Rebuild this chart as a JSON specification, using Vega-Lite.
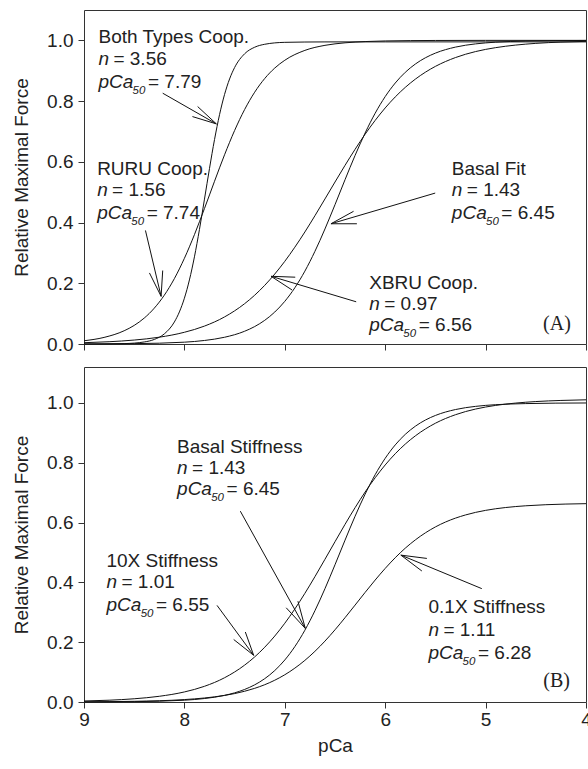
{
  "$schema": "https://vega.github.io/schema/vega-lite/v6.json",
  "background": "white",
  "padding": {"left": 12, "top": 9, "right": 2, "bottom": 5},
  "config": {
    "view": {"stroke": "#333", "strokeWidth": 1},
    "font": "Liberation Sans",
    "concat": {"spacing": 11},
    "axis": {"grid": false, "domain": false, "tickColor": "#333", "tickSize": 6, "labelFont": "Liberation Sans", "labelFontSize": 19, "labelColor": "#222", "titleFont": "Liberation Sans", "titleFontSize": 19, "titleFontWeight": "normal", "titleColor": "#222", "labelFlush": false, "labelOverlap": false, "labelBound": false}
  },
  "datasets": {
    "curves": [
      {"panel":"A","curve":"both","pCa":9.0,"force":0.0000},{"panel":"A","curve":"both","pCa":8.8,"force":0.0002},{"panel":"A","curve":"both","pCa":8.6,"force":0.0013},{"panel":"A","curve":"both","pCa":8.4,"force":0.0067},{"panel":"A","curve":"both","pCa":8.3,"force":0.0150},{"panel":"A","curve":"both","pCa":8.2,"force":0.0333},{"panel":"A","curve":"both","pCa":8.1,"force":0.0725},{"panel":"A","curve":"both","pCa":8.05,"force":0.1056},{"panel":"A","curve":"both","pCa":8.0,"force":0.1508},{"panel":"A","curve":"both","pCa":7.95,"force":0.2110},{"panel":"A","curve":"both","pCa":7.9,"force":0.2871},{"panel":"A","curve":"both","pCa":7.85,"force":0.3774},{"panel":"A","curve":"both","pCa":7.8,"force":0.4771},{"panel":"A","curve":"both","pCa":7.75,"force":0.5783},{"panel":"A","curve":"both","pCa":7.7,"force":0.6732},{"panel":"A","curve":"both","pCa":7.65,"force":0.7553},{"panel":"A","curve":"both","pCa":7.6,"force":0.8219},{"panel":"A","curve":"both","pCa":7.55,"force":0.8729},{"panel":"A","curve":"both","pCa":7.5,"force":0.9105},{"panel":"A","curve":"both","pCa":7.4,"force":0.9559},{"panel":"A","curve":"both","pCa":7.3,"force":0.9774},{"panel":"A","curve":"both","pCa":7.2,"force":0.9871},{"panel":"A","curve":"both","pCa":7.0,"force":0.9935},{"panel":"A","curve":"both","pCa":6.6,"force":0.9949},{"panel":"A","curve":"both","pCa":6.0,"force":0.995},{"panel":"A","curve":"both","pCa":5.0,"force":0.995},{"panel":"A","curve":"both","pCa":4.0,"force":0.995},
      {"panel":"A","curve":"ruru","pCa":9.0,"force":0.0107},{"panel":"A","curve":"ruru","pCa":8.8,"force":0.0217},{"panel":"A","curve":"ruru","pCa":8.6,"force":0.0436},{"panel":"A","curve":"ruru","pCa":8.5,"force":0.0612},{"panel":"A","curve":"ruru","pCa":8.4,"force":0.0854},{"panel":"A","curve":"ruru","pCa":8.3,"force":0.1180},{"panel":"A","curve":"ruru","pCa":8.2,"force":0.1608},{"panel":"A","curve":"ruru","pCa":8.1,"force":0.2153},{"panel":"A","curve":"ruru","pCa":8.0,"force":0.2822},{"panel":"A","curve":"ruru","pCa":7.9,"force":0.3602},{"panel":"A","curve":"ruru","pCa":7.8,"force":0.4463},{"panel":"A","curve":"ruru","pCa":7.7,"force":0.5359},{"panel":"A","curve":"ruru","pCa":7.6,"force":0.6232},{"panel":"A","curve":"ruru","pCa":7.5,"force":0.7031},{"panel":"A","curve":"ruru","pCa":7.4,"force":0.7723},{"panel":"A","curve":"ruru","pCa":7.3,"force":0.8293},{"panel":"A","curve":"ruru","pCa":7.2,"force":0.8744},{"panel":"A","curve":"ruru","pCa":7.1,"force":0.9088},{"panel":"A","curve":"ruru","pCa":7.0,"force":0.9345},{"panel":"A","curve":"ruru","pCa":6.8,"force":0.9670},{"panel":"A","curve":"ruru","pCa":6.6,"force":0.9836},{"panel":"A","curve":"ruru","pCa":6.4,"force":0.9919},{"panel":"A","curve":"ruru","pCa":6.2,"force":0.9961},{"panel":"A","curve":"ruru","pCa":6.0,"force":0.9981},{"panel":"A","curve":"ruru","pCa":5.5,"force":0.9997},{"panel":"A","curve":"ruru","pCa":5.0,"force":1.0},{"panel":"A","curve":"ruru","pCa":4.0,"force":1.0},
      {"panel":"A","curve":"basal","pCa":9.0,"force":0.0002},{"panel":"A","curve":"basal","pCa":8.5,"force":0.0012},{"panel":"A","curve":"basal","pCa":8.0,"force":0.0060},{"panel":"A","curve":"basal","pCa":7.8,"force":0.0116},{"panel":"A","curve":"basal","pCa":7.6,"force":0.0222},{"panel":"A","curve":"basal","pCa":7.4,"force":0.0420},{"panel":"A","curve":"basal","pCa":7.3,"force":0.0574},{"panel":"A","curve":"basal","pCa":7.2,"force":0.0780},{"panel":"A","curve":"basal","pCa":7.1,"force":0.1052},{"panel":"A","curve":"basal","pCa":7.0,"force":0.1405},{"panel":"A","curve":"basal","pCa":6.9,"force":0.1852},{"panel":"A","curve":"basal","pCa":6.8,"force":0.2400},{"panel":"A","curve":"basal","pCa":6.7,"force":0.3051},{"panel":"A","curve":"basal","pCa":6.6,"force":0.3789},{"panel":"A","curve":"basal","pCa":6.5,"force":0.4589},{"panel":"A","curve":"basal","pCa":6.4,"force":0.5411},{"panel":"A","curve":"basal","pCa":6.3,"force":0.6211},{"panel":"A","curve":"basal","pCa":6.2,"force":0.6949},{"panel":"A","curve":"basal","pCa":6.1,"force":0.7600},{"panel":"A","curve":"basal","pCa":6.0,"force":0.8148},{"panel":"A","curve":"basal","pCa":5.9,"force":0.8595},{"panel":"A","curve":"basal","pCa":5.8,"force":0.8948},{"panel":"A","curve":"basal","pCa":5.7,"force":0.9220},{"panel":"A","curve":"basal","pCa":5.6,"force":0.9426},{"panel":"A","curve":"basal","pCa":5.5,"force":0.9580},{"panel":"A","curve":"basal","pCa":5.3,"force":0.9778},{"panel":"A","curve":"basal","pCa":5.1,"force":0.9884},{"panel":"A","curve":"basal","pCa":4.9,"force":0.9940},{"panel":"A","curve":"basal","pCa":4.6,"force":0.9977},{"panel":"A","curve":"basal","pCa":4.3,"force":0.9992},{"panel":"A","curve":"basal","pCa":4.0,"force":0.9997},
      {"panel":"A","curve":"xbru","pCa":9.0,"force":0.0043},{"panel":"A","curve":"xbru","pCa":8.75,"force":0.0075},{"panel":"A","curve":"xbru","pCa":8.5,"force":0.0130},{"panel":"A","curve":"xbru","pCa":8.25,"force":0.0224},{"panel":"A","curve":"xbru","pCa":8.0,"force":0.0386},{"panel":"A","curve":"xbru","pCa":7.8,"force":0.0590},{"panel":"A","curve":"xbru","pCa":7.6,"force":0.0892},{"panel":"A","curve":"xbru","pCa":7.4,"force":0.1328},{"panel":"A","curve":"xbru","pCa":7.3,"force":0.1607},{"panel":"A","curve":"xbru","pCa":7.2,"force":0.1932},{"panel":"A","curve":"xbru","pCa":7.1,"force":0.2304},{"panel":"A","curve":"xbru","pCa":7.0,"force":0.2723},{"panel":"A","curve":"xbru","pCa":6.9,"force":0.3188},{"panel":"A","curve":"xbru","pCa":6.8,"force":0.3690},{"panel":"A","curve":"xbru","pCa":6.7,"force":0.4224},{"panel":"A","curve":"xbru","pCa":6.6,"force":0.4777},{"panel":"A","curve":"xbru","pCa":6.5,"force":0.5335},{"panel":"A","curve":"xbru","pCa":6.4,"force":0.5884},{"panel":"A","curve":"xbru","pCa":6.3,"force":0.6412},{"panel":"A","curve":"xbru","pCa":6.2,"force":0.6909},{"panel":"A","curve":"xbru","pCa":6.1,"force":0.7364},{"panel":"A","curve":"xbru","pCa":6.0,"force":0.7774},{"panel":"A","curve":"xbru","pCa":5.9,"force":0.8137},{"panel":"A","curve":"xbru","pCa":5.8,"force":0.8452},{"panel":"A","curve":"xbru","pCa":5.7,"force":0.8722},{"panel":"A","curve":"xbru","pCa":5.6,"force":0.8951},{"panel":"A","curve":"xbru","pCa":5.5,"force":0.9143},{"panel":"A","curve":"xbru","pCa":5.3,"force":0.9434},{"panel":"A","curve":"xbru","pCa":5.1,"force":0.9631},{"panel":"A","curve":"xbru","pCa":4.9,"force":0.9760},{"panel":"A","curve":"xbru","pCa":4.7,"force":0.9845},{"panel":"A","curve":"xbru","pCa":4.5,"force":0.9901},{"panel":"A","curve":"xbru","pCa":4.25,"force":0.9943},{"panel":"A","curve":"xbru","pCa":4.0,"force":0.9967},
      {"panel":"B","curve":"bstiff","pCa":9.0,"force":0.0002},{"panel":"B","curve":"bstiff","pCa":8.5,"force":0.0012},{"panel":"B","curve":"bstiff","pCa":8.0,"force":0.0060},{"panel":"B","curve":"bstiff","pCa":7.8,"force":0.0116},{"panel":"B","curve":"bstiff","pCa":7.6,"force":0.0222},{"panel":"B","curve":"bstiff","pCa":7.4,"force":0.0420},{"panel":"B","curve":"bstiff","pCa":7.3,"force":0.0574},{"panel":"B","curve":"bstiff","pCa":7.2,"force":0.0780},{"panel":"B","curve":"bstiff","pCa":7.1,"force":0.1052},{"panel":"B","curve":"bstiff","pCa":7.0,"force":0.1405},{"panel":"B","curve":"bstiff","pCa":6.9,"force":0.1852},{"panel":"B","curve":"bstiff","pCa":6.8,"force":0.2400},{"panel":"B","curve":"bstiff","pCa":6.7,"force":0.3051},{"panel":"B","curve":"bstiff","pCa":6.6,"force":0.3789},{"panel":"B","curve":"bstiff","pCa":6.5,"force":0.4589},{"panel":"B","curve":"bstiff","pCa":6.4,"force":0.5411},{"panel":"B","curve":"bstiff","pCa":6.3,"force":0.6211},{"panel":"B","curve":"bstiff","pCa":6.2,"force":0.6949},{"panel":"B","curve":"bstiff","pCa":6.1,"force":0.7600},{"panel":"B","curve":"bstiff","pCa":6.0,"force":0.8148},{"panel":"B","curve":"bstiff","pCa":5.9,"force":0.8595},{"panel":"B","curve":"bstiff","pCa":5.8,"force":0.8948},{"panel":"B","curve":"bstiff","pCa":5.7,"force":0.9220},{"panel":"B","curve":"bstiff","pCa":5.6,"force":0.9426},{"panel":"B","curve":"bstiff","pCa":5.5,"force":0.9580},{"panel":"B","curve":"bstiff","pCa":5.3,"force":0.9778},{"panel":"B","curve":"bstiff","pCa":5.1,"force":0.9884},{"panel":"B","curve":"bstiff","pCa":4.9,"force":0.9940},{"panel":"B","curve":"bstiff","pCa":4.6,"force":0.9977},{"panel":"B","curve":"bstiff","pCa":4.3,"force":0.9992},{"panel":"B","curve":"bstiff","pCa":4.0,"force":0.9997},
      {"panel":"B","curve":"x10","pCa":9.0,"force":0.0034},{"panel":"B","curve":"x10","pCa":8.75,"force":0.0060},{"panel":"B","curve":"x10","pCa":8.5,"force":0.0108},{"panel":"B","curve":"x10","pCa":8.25,"force":0.0191},{"panel":"B","curve":"x10","pCa":8.0,"force":0.0336},{"panel":"B","curve":"x10","pCa":7.8,"force":0.0525},{"panel":"B","curve":"x10","pCa":7.6,"force":0.0811},{"panel":"B","curve":"x10","pCa":7.4,"force":0.1233},{"panel":"B","curve":"x10","pCa":7.3,"force":0.1507},{"panel":"B","curve":"x10","pCa":7.2,"force":0.1831},{"panel":"B","curve":"x10","pCa":7.1,"force":0.2205},{"panel":"B","curve":"x10","pCa":7.0,"force":0.2633},{"panel":"B","curve":"x10","pCa":6.9,"force":0.3110},{"panel":"B","curve":"x10","pCa":6.8,"force":0.3633},{"panel":"B","curve":"x10","pCa":6.7,"force":0.4190},{"panel":"B","curve":"x10","pCa":6.6,"force":0.4771},{"panel":"B","curve":"x10","pCa":6.5,"force":0.5359},{"panel":"B","curve":"x10","pCa":6.4,"force":0.5940},{"panel":"B","curve":"x10","pCa":6.3,"force":0.6497},{"panel":"B","curve":"x10","pCa":6.2,"force":0.7020},{"panel":"B","curve":"x10","pCa":6.1,"force":0.7497},{"panel":"B","curve":"x10","pCa":6.0,"force":0.7925},{"panel":"B","curve":"x10","pCa":5.9,"force":0.8300},{"panel":"B","curve":"x10","pCa":5.8,"force":0.8623},{"panel":"B","curve":"x10","pCa":5.7,"force":0.8897},{"panel":"B","curve":"x10","pCa":5.6,"force":0.9128},{"panel":"B","curve":"x10","pCa":5.5,"force":0.9320},{"panel":"B","curve":"x10","pCa":5.3,"force":0.9605},{"panel":"B","curve":"x10","pCa":5.1,"force":0.9794},{"panel":"B","curve":"x10","pCa":4.9,"force":0.9916},{"panel":"B","curve":"x10","pCa":4.7,"force":0.9994},{"panel":"B","curve":"x10","pCa":4.5,"force":1.0045},{"panel":"B","curve":"x10","pCa":4.25,"force":1.0082},{"panel":"B","curve":"x10","pCa":4.0,"force":1.0103},
      {"panel":"B","curve":"x01","pCa":9.0,"force":0.0006},{"panel":"B","curve":"x01","pCa":8.5,"force":0.0023},{"panel":"B","curve":"x01","pCa":8.0,"force":0.0081},{"panel":"B","curve":"x01","pCa":7.8,"force":0.0134},{"panel":"B","curve":"x01","pCa":7.6,"force":0.0220},{"panel":"B","curve":"x01","pCa":7.4,"force":0.0359},{"panel":"B","curve":"x01","pCa":7.3,"force":0.0457},{"panel":"B","curve":"x01","pCa":7.2,"force":0.0578},{"panel":"B","curve":"x01","pCa":7.1,"force":0.0728},{"panel":"B","curve":"x01","pCa":7.0,"force":0.0911},{"panel":"B","curve":"x01","pCa":6.9,"force":0.1132},{"panel":"B","curve":"x01","pCa":6.8,"force":0.1392},{"panel":"B","curve":"x01","pCa":6.7,"force":0.1694},{"panel":"B","curve":"x01","pCa":6.6,"force":0.2036},{"panel":"B","curve":"x01","pCa":6.5,"force":0.2414},{"panel":"B","curve":"x01","pCa":6.4,"force":0.2819},{"panel":"B","curve":"x01","pCa":6.3,"force":0.3240},{"panel":"B","curve":"x01","pCa":6.2,"force":0.3664},{"panel":"B","curve":"x01","pCa":6.1,"force":0.4077},{"panel":"B","curve":"x01","pCa":6.0,"force":0.4466},{"panel":"B","curve":"x01","pCa":5.9,"force":0.4824},{"panel":"B","curve":"x01","pCa":5.8,"force":0.5143},{"panel":"B","curve":"x01","pCa":5.7,"force":0.5419},{"panel":"B","curve":"x01","pCa":5.6,"force":0.5655},{"panel":"B","curve":"x01","pCa":5.5,"force":0.5853},{"panel":"B","curve":"x01","pCa":5.4,"force":0.6016},{"panel":"B","curve":"x01","pCa":5.2,"force":0.6254},{"panel":"B","curve":"x01","pCa":5.0,"force":0.6407},{"panel":"B","curve":"x01","pCa":4.8,"force":0.6502},{"panel":"B","curve":"x01","pCa":4.6,"force":0.6560},{"panel":"B","curve":"x01","pCa":4.4,"force":0.6596},{"panel":"B","curve":"x01","pCa":4.2,"force":0.6618},{"panel":"B","curve":"x01","pCa":4.0,"force":0.6631}
    ],
    "arrows": [
      {"panel":"A","pCa":8.216,"force":0.826,"pCa2":7.682,"force2":0.725},
      {"panel":"A","pCa":7.682,"force":0.725,"pCa2":7.868,"force2":0.782},
      {"panel":"A","pCa":7.682,"force":0.725,"pCa2":7.920,"force2":0.749},
      {"panel":"A","pCa":8.388,"force":0.374,"pCa2":8.232,"force2":0.157},
      {"panel":"A","pCa":8.232,"force":0.157,"pCa2":8.348,"force2":0.234},
      {"panel":"A","pCa":8.232,"force":0.157,"pCa2":8.216,"force2":0.242},
      {"panel":"A","pCa":5.502,"force":0.497,"pCa2":6.540,"force2":0.396},
      {"panel":"A","pCa":6.540,"force":0.396,"pCa2":6.315,"force2":0.437},
      {"panel":"A","pCa":6.540,"force":0.396,"pCa2":6.282,"force2":0.396},
      {"panel":"A","pCa":6.289,"force":0.139,"pCa2":7.137,"force2":0.223},
      {"panel":"A","pCa":7.137,"force":0.223,"pCa2":6.896,"force2":0.220},
      {"panel":"A","pCa":7.137,"force":0.223,"pCa2":6.928,"force2":0.178},
      {"panel":"B","pCa":7.443,"force":0.638,"pCa2":6.796,"force2":0.246},
      {"panel":"B","pCa":6.796,"force":0.246,"pCa2":6.869,"force2":0.337},
      {"panel":"B","pCa":6.796,"force":0.246,"pCa2":6.986,"force2":0.315},
      {"panel":"B","pCa":7.675,"force":0.323,"pCa2":7.310,"force2":0.156},
      {"panel":"B","pCa":7.310,"force":0.156,"pCa2":7.393,"force2":0.234},
      {"panel":"B","pCa":7.310,"force":0.156,"pCa2":7.509,"force2":0.209},
      {"panel":"B","pCa":5.038,"force":0.379,"pCa2":5.844,"force2":0.491},
      {"panel":"B","pCa":5.844,"force":0.491,"pCa2":5.585,"force2":0.480},
      {"panel":"B","pCa":5.844,"force":0.491,"pCa2":5.635,"force2":0.438}
    ],
    "labels": [
      {"panel":"A","style":"normal","pCa":8.856,"force":0.990,"text":"Both Types Coop."},
      {"panel":"A","style":"italic","pCa":8.856,"force":0.918,"text":"n"},
      {"panel":"A","style":"normal","pCa":8.707,"force":0.918,"text":"= 3.56"},
      {"panel":"A","style":"italic","pCa":8.856,"force":0.842,"text":"pCa"},
      {"panel":"A","style":"sub","pCa":8.516,"force":0.822,"text":"50"},
      {"panel":"A","style":"normal","pCa":8.363,"force":0.842,"text":"= 7.79"},
      {"panel":"A","style":"normal","pCa":8.869,"force":0.555,"text":"RURU Coop."},
      {"panel":"A","style":"italic","pCa":8.869,"force":0.486,"text":"n"},
      {"panel":"A","style":"normal","pCa":8.720,"force":0.486,"text":"= 1.56"},
      {"panel":"A","style":"italic","pCa":8.869,"force":0.413,"text":"pCa"},
      {"panel":"A","style":"sub","pCa":8.529,"force":0.393,"text":"50"},
      {"panel":"A","style":"normal","pCa":8.376,"force":0.413,"text":"= 7.74"},
      {"panel":"A","style":"normal","pCa":5.336,"force":0.555,"text":"Basal Fit"},
      {"panel":"A","style":"italic","pCa":5.336,"force":0.486,"text":"n"},
      {"panel":"A","style":"normal","pCa":5.187,"force":0.486,"text":"= 1.43"},
      {"panel":"A","style":"italic","pCa":5.336,"force":0.413,"text":"pCa"},
      {"panel":"A","style":"sub","pCa":4.996,"force":0.393,"text":"50"},
      {"panel":"A","style":"normal","pCa":4.843,"force":0.413,"text":"= 6.45"},
      {"panel":"A","style":"normal","pCa":6.159,"force":0.182,"text":"XBRU Coop."},
      {"panel":"A","style":"italic","pCa":6.159,"force":0.113,"text":"n"},
      {"panel":"A","style":"normal","pCa":6.010,"force":0.113,"text":"= 0.97"},
      {"panel":"A","style":"italic","pCa":6.159,"force":0.044,"text":"pCa"},
      {"panel":"A","style":"sub","pCa":5.819,"force":0.024,"text":"50"},
      {"panel":"A","style":"normal","pCa":5.666,"force":0.044,"text":"= 6.56"},
      {"panel":"A","style":"serif","pCa":4.428,"force":0.047,"text":"(A)"},
      {"panel":"B","style":"normal","pCa":8.073,"force":0.833,"text":"Basal Stiffness"},
      {"panel":"B","style":"italic","pCa":8.073,"force":0.763,"text":"n"},
      {"panel":"B","style":"normal","pCa":7.924,"force":0.763,"text":"= 1.43"},
      {"panel":"B","style":"italic","pCa":8.073,"force":0.691,"text":"pCa"},
      {"panel":"B","style":"sub","pCa":7.733,"force":0.671,"text":"50"},
      {"panel":"B","style":"normal","pCa":7.580,"force":0.691,"text":"= 6.45"},
      {"panel":"B","style":"normal","pCa":8.776,"force":0.452,"text":"10X Stiffness"},
      {"panel":"B","style":"italic","pCa":8.776,"force":0.380,"text":"n"},
      {"panel":"B","style":"normal","pCa":8.627,"force":0.380,"text":"= 1.01"},
      {"panel":"B","style":"italic","pCa":8.776,"force":0.303,"text":"pCa"},
      {"panel":"B","style":"sub","pCa":8.436,"force":0.283,"text":"50"},
      {"panel":"B","style":"normal","pCa":8.283,"force":0.303,"text":"= 6.55"},
      {"panel":"B","style":"normal","pCa":5.569,"force":0.297,"text":"0.1X Stiffness"},
      {"panel":"B","style":"italic","pCa":5.569,"force":0.220,"text":"n"},
      {"panel":"B","style":"normal","pCa":5.420,"force":0.220,"text":"= 1.11"},
      {"panel":"B","style":"italic","pCa":5.569,"force":0.143,"text":"pCa"},
      {"panel":"B","style":"sub","pCa":5.229,"force":0.123,"text":"50"},
      {"panel":"B","style":"normal","pCa":5.076,"force":0.143,"text":"= 6.28"},
      {"panel":"B","style":"serif","pCa":4.425,"force":0.049,"text":"(B)"}
    ]
  },
  "vconcat": [
    {
      "width": 502,
      "height": 334,
      "encoding": {
        "x": {"field": "pCa", "type": "quantitative", "scale": {"domain": [4, 9], "reverse": true, "nice": false, "zero": false}, "axis": {"values": [9, 8, 7, 6, 5, 4], "labels": false, "title": null}},
        "y": {"field": "force", "type": "quantitative", "scale": {"domain": [0, 1.1], "nice": false}, "axis": {"values": [0, 0.2, 0.4, 0.6, 0.8, 1.0], "format": ".1f", "title": "Relative Maximal Force", "labelPadding": 5, "titlePadding": 15}}
      },
      "layer": [
        {
          "data": {"name": "curves"},
          "transform": [{"filter": "datum.panel == 'A'"}],
          "mark": {"type": "line", "interpolate": "monotone", "color": "#111", "strokeWidth": 1},
          "encoding": {"detail": {"field": "curve"}}
        },
        {
          "data": {"name": "arrows"},
          "transform": [{"filter": "datum.panel == 'A'"}],
          "mark": {"type": "rule", "color": "#111", "strokeWidth": 1},
          "encoding": {"x2": {"field": "pCa2"}, "y2": {"field": "force2"}}
        },
        {
          "data": {"name": "labels"},
          "transform": [{"filter": "datum.panel == 'A' && datum.style == 'normal'"}],
          "mark": {"type": "text", "align": "left", "baseline": "alphabetic", "font": "Liberation Sans", "fontSize": 19, "color": "#222"},
          "encoding": {"text": {"field": "text"}}
        },
        {
          "data": {"name": "labels"},
          "transform": [{"filter": "datum.panel == 'A' && datum.style == 'italic'"}],
          "mark": {"type": "text", "align": "left", "baseline": "alphabetic", "font": "Liberation Sans", "fontStyle": "italic", "fontSize": 19, "color": "#222"},
          "encoding": {"text": {"field": "text"}}
        },
        {
          "data": {"name": "labels"},
          "transform": [{"filter": "datum.panel == 'A' && datum.style == 'sub'"}],
          "mark": {"type": "text", "align": "left", "baseline": "alphabetic", "font": "Liberation Sans", "fontStyle": "italic", "fontSize": 11.5, "color": "#222"},
          "encoding": {"text": {"field": "text"}}
        },
        {
          "data": {"name": "labels"},
          "transform": [{"filter": "datum.panel == 'A' && datum.style == 'serif'"}],
          "mark": {"type": "text", "align": "left", "baseline": "alphabetic", "font": "Liberation Serif", "fontSize": 20, "color": "#222"},
          "encoding": {"text": {"field": "text"}}
        }
      ]
    },
    {
      "width": 502,
      "height": 335,
      "encoding": {
        "x": {"field": "pCa", "type": "quantitative", "scale": {"domain": [4, 9], "reverse": true, "nice": false, "zero": false}, "axis": {"values": [9, 8, 7, 6, 5, 4], "format": "d", "title": "pCa", "labelPadding": 2, "titlePadding": 7}},
        "y": {"field": "force", "type": "quantitative", "scale": {"domain": [0, 1.12], "nice": false}, "axis": {"values": [0, 0.2, 0.4, 0.6, 0.8, 1.0], "format": ".1f", "title": "Relative Maximal Force", "labelPadding": 5, "titlePadding": 15}}
      },
      "layer": [
        {
          "data": {"name": "curves"},
          "transform": [{"filter": "datum.panel == 'B'"}],
          "mark": {"type": "line", "interpolate": "monotone", "color": "#111", "strokeWidth": 1},
          "encoding": {"detail": {"field": "curve"}}
        },
        {
          "data": {"name": "arrows"},
          "transform": [{"filter": "datum.panel == 'B'"}],
          "mark": {"type": "rule", "color": "#111", "strokeWidth": 1},
          "encoding": {"x2": {"field": "pCa2"}, "y2": {"field": "force2"}}
        },
        {
          "data": {"name": "labels"},
          "transform": [{"filter": "datum.panel == 'B' && datum.style == 'normal'"}],
          "mark": {"type": "text", "align": "left", "baseline": "alphabetic", "font": "Liberation Sans", "fontSize": 19, "color": "#222"},
          "encoding": {"text": {"field": "text"}}
        },
        {
          "data": {"name": "labels"},
          "transform": [{"filter": "datum.panel == 'B' && datum.style == 'italic'"}],
          "mark": {"type": "text", "align": "left", "baseline": "alphabetic", "font": "Liberation Sans", "fontStyle": "italic", "fontSize": 19, "color": "#222"},
          "encoding": {"text": {"field": "text"}}
        },
        {
          "data": {"name": "labels"},
          "transform": [{"filter": "datum.panel == 'B' && datum.style == 'sub'"}],
          "mark": {"type": "text", "align": "left", "baseline": "alphabetic", "font": "Liberation Sans", "fontStyle": "italic", "fontSize": 11.5, "color": "#222"},
          "encoding": {"text": {"field": "text"}}
        },
        {
          "data": {"name": "labels"},
          "transform": [{"filter": "datum.panel == 'B' && datum.style == 'serif'"}],
          "mark": {"type": "text", "align": "left", "baseline": "alphabetic", "font": "Liberation Serif", "fontSize": 20, "color": "#222"},
          "encoding": {"text": {"field": "text"}}
        }
      ]
    }
  ]
}
